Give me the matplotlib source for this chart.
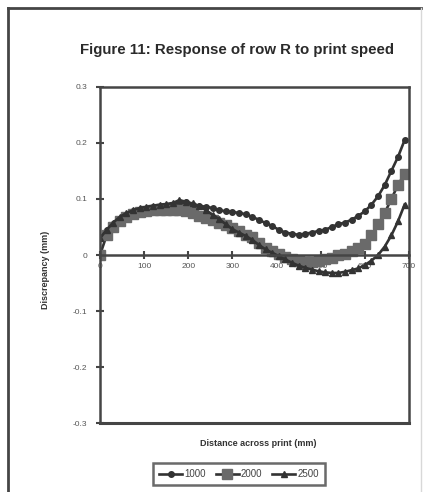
import numpy as np
import matplotlib
matplotlib.use('Agg')
import matplotlib.pyplot as plt
from matplotlib.lines import Line2D

plt.rcParams['font.family'] = ['Liberation Sans', 'DejaVu Sans']

# distance across print (mm) and discrepancy (mm) for each print speed
distance = [0, 15, 30, 45, 60, 75, 90, 105, 120, 135, 150, 165, 180, 195, 210, 225,
            240, 255, 270, 285, 300, 315, 330, 345, 360, 375, 390, 405, 420, 435, 450,
            465, 480, 495, 510, 525, 540, 555, 570, 585, 600, 615, 630, 645, 660, 675, 690]

speed_1000 = [0.030, 0.045, 0.055, 0.065, 0.072, 0.078, 0.080, 0.083, 0.085, 0.086, 0.088,
              0.090, 0.092, 0.094, 0.090, 0.088, 0.086, 0.084, 0.080, 0.078, 0.077, 0.075,
              0.073, 0.068, 0.063, 0.057, 0.052, 0.045, 0.040, 0.038, 0.036, 0.038, 0.040,
              0.043, 0.045, 0.050, 0.055, 0.058, 0.063, 0.070, 0.078, 0.090, 0.105, 0.125,
              0.150, 0.175, 0.205]

speed_2000 = [0.000, 0.035, 0.050, 0.060, 0.068, 0.073, 0.076, 0.078, 0.080, 0.080, 0.080,
              0.080, 0.080, 0.078, 0.075, 0.070, 0.066, 0.062, 0.058, 0.053, 0.048, 0.042,
              0.036, 0.032, 0.022, 0.012, 0.008, 0.002, -0.004, -0.008, -0.010, -0.012,
              -0.012, -0.010, -0.008, -0.005, 0.000, 0.002, 0.008, 0.012, 0.020, 0.035,
              0.055, 0.075, 0.100, 0.125, 0.145]

speed_2500 = [0.030, 0.045, 0.058, 0.068, 0.075, 0.080, 0.084, 0.086, 0.088, 0.090, 0.091,
              0.093, 0.098, 0.095, 0.092, 0.087, 0.080, 0.072, 0.064, 0.055, 0.046, 0.040,
              0.034, 0.027, 0.018, 0.010, 0.004, -0.002, -0.008, -0.014, -0.019, -0.023,
              -0.026, -0.029, -0.031, -0.032, -0.032, -0.030, -0.027, -0.024, -0.018,
              -0.010, 0.000, 0.015, 0.035, 0.060, 0.090]

x_ticks = [0, 100, 200, 300, 400, 500, 600, 700]
y_ticks = [-0.3, -0.2, -0.1, 0, 0.1, 0.2, 0.3]
y_tick_labels = ['-0.3', '-0.2', '-0.1', '0', '0.1', '0.2', '0.3']

dark = '#333333'
frame = '#454545'

fig = plt.figure(figsize=(4.29, 4.92), dpi=100)

# outer frame of the figure panel
fig.add_artist(Line2D([8/429, 8/429], [0, 1 - 8/492], color=frame, lw=2))
fig.add_artist(Line2D([8/429, 421/429], [1 - 8/492, 1 - 8/492], color=frame, lw=2))
fig.add_artist(Line2D([421/429, 421/429], [0, 1 - 8/492], color='#d8d8d8', lw=1))

ax = fig.add_axes([100/429, 69/492, 309/429, 336/492])

ax.plot(distance, speed_1000, color=dark, lw=1.9, marker='o', ms=4,
        mfc=dark, mec=dark, label='1000')
ax.plot(distance, speed_2000, color=dark, lw=1.9, marker='s', ms=7.5,
        mfc='#6a6a6a', mec='#6a6a6a', label='2000')
ax.plot(distance, speed_2500, color=dark, lw=1.9, marker='^', ms=5,
        mfc=dark, mec=dark, label='2500')

ax.set_xlim(0, 700)
ax.set_ylim(-0.3, 0.3)

# x axis crosses at y = 0, the plot area keeps a full box
ax.spines['bottom'].set_position(('data', 0))
for s in ['bottom', 'left', 'top', 'right']:
    ax.spines[s].set_color(frame)
    ax.spines[s].set_linewidth(1.8)
ax.axhline(-0.3, color=frame, lw=2.2, clip_on=False)

ax.set_xticks(x_ticks)
ax.set_xticklabels([str(v) for v in x_ticks])
ax.set_yticks(y_ticks)
ax.set_yticklabels(y_tick_labels)
ax.tick_params(axis='both', direction='inout', length=6, width=1.5, color=frame,
               labelsize=6, labelcolor='#555555')
ax.tick_params(axis='x', pad=3)
ax.tick_params(axis='y', pad=6)

fig.text(237/429, 1 - 50/492, 'Figure 11: Response of row R to print speed',
         ha='center', va='center', fontsize=10.8, fontweight='bold', color='#2a2a2a')
fig.text(258/429, 1 - 444/492, 'Distance across print (mm)', ha='center', va='center',
         fontsize=6.5, fontweight='bold', color='#333333')
fig.text(46/429, 1 - 270/492, 'Discrepancy (mm)', ha='center', va='center',
         rotation=90, fontsize=6.5, fontweight='bold', color='#333333')

leg = ax.legend(loc='center', bbox_to_anchor=(239/429, 1 - 474/492),
                bbox_transform=fig.transFigure, ncol=3, fontsize=7,
                frameon=True, fancybox=False, handlelength=2.4,
                handletextpad=0.2, columnspacing=1.0, borderpad=0.6)
leg.get_frame().set_edgecolor(frame)
leg.get_frame().set_linewidth(1.8)
for t in leg.get_texts():
    t.set_color('#444444')

fig.savefig('out.png', dpi=100)
